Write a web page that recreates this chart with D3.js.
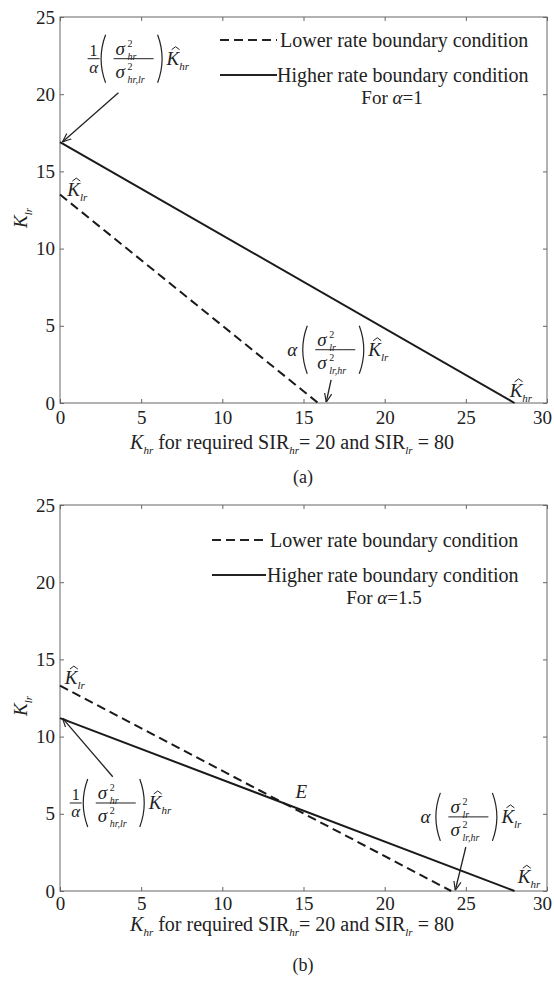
<!DOCTYPE html>
<meta charset="utf-8">
<script src="https://d3js.org/d3.v7.min.js"></script>
<style>
  body { margin: 0; background: #fff; }
  text { font-family: "Liberation Serif", "Times New Roman", serif; fill: #222; }
</style>
<div id="chart"></div>
<script>
// ticks shared by both panels
const xTicks = [0, 5, 10, 15, 20, 25, 30];
const yTicks = [0, 5, 10, 15, 20, 25];

// panel (a), alpha = 1 : points are [K_hr, K_lr]
const lowerA = [[0, 13.5], [15.9, 0]];
const higherA = [[0, 16.9], [28, 0]];
// panel (b), alpha = 1.5
const lowerB = [[0, 13.3], [24.1, 0]];
const higherB = [[0, 11.2], [28, 0]];

const legendLabels = ["Lower rate boundary condition", "Higher rate boundary condition"];

// annotations, anchored in data units
const notesA = {
  inv: { at: [1.7, 22.3], num: "hr", den: "hr,lr", k: "hr", arrow: [[3.6, 20.1], [0.15, 16.9]] },
  frac: { at: [14.0, 3.45], num: "lr", den: "lr,hr", k: "lr", arrow: [[16.7, 1.5], [16.4, 0.05]] },
  hats: [{ at: [0.45, 13.4], sub: "lr" }, { at: [27.7, 0.4], sub: "hr" }],
  E: null
};
const notesB = {
  inv: { at: [0.6, 5.7], num: "hr", den: "hr,lr", k: "hr", arrow: [[3.25, 7.4], [0.15, 11.2]] },
  frac: { at: [22.2, 4.8], num: "lr", den: "lr,hr", k: "lr", arrow: [[25.0, 2.85], [24.35, 0.05]] },
  hats: [{ at: [0.3, 13.4], sub: "lr" }, { at: [28.2, 0.5], sub: "hr" }],
  E: [14.5, 6.0]
};

const W = 554, H = 982;
const panels = [
  { tag: "(a)", alpha: "1", lower: lowerA, higher: higherA, top: 17, bottom: 403, notes: notesA,
    tickPad: 8, xlab: 46, leg: { x0: 220, x1: 277, tx: 280, y: 23, fx: 392 } },
  { tag: "(b)", alpha: "1.5", lower: lowerB, higher: higherB, top: 505, bottom: 891, notes: notesB,
    tickPad: 6, xlab: 40, leg: { x0: 212, x1: 266, tx: 270, y: 35, fx: 384 } }
];

const svg = d3.select("#chart").append("svg")
  .attr("width", W).attr("height", H);

svg.append("defs").append("marker")
  .attr("id", "arr")
  .attr("viewBox", "0 0 10 10")
  .attr("refX", 10).attr("refY", 5)
  .attr("markerUnits", "userSpaceOnUse")
  .attr("markerWidth", 9).attr("markerHeight", 9)
  .attr("orient", "auto")
  .append("path")
  .attr("d", "M0,1 L10,5 L0,9")
  .attr("fill", "none").attr("stroke", "#222").attr("stroke-width", 1.3);

var x = d3.scaleLinear().domain([0, 30]).range([60, 547]);

function sigma(g, px, py, sub) {
  g.append("text").attr("x", px).attr("y", py)
    .style("font-style", "italic").style("font-size", "19px").text("σ");
  g.append("text").attr("x", px + 12).attr("y", py - 8).style("font-size", "10px").text("2");
  g.append("text").attr("x", px + 12).attr("y", py + 5)
    .style("font-size", "10px").style("font-style", "italic").text(sub);
}

// K with a hat drawn as a small stroke above it
function hatK(g, px, py, sub) {
  var t = g.append("text").attr("x", px).attr("y", py).style("font-size", "19px");
  t.append("tspan").style("font-style", "italic").text("K");
  t.append("tspan").attr("dy", 5).style("font-size", "11px").style("font-style", "italic").text(sub);
  g.append("path")
    .attr("d", `M${px + 5},${py - 15} L${px + 9},${py - 18} L${px + 13},${py - 15}`)
    .attr("fill", "none").attr("stroke", "#222").attr("stroke-width", 1);
}

function paren(g, px, left) {
  var d = left ? `M${px + 5},-24 Q${px - 4},0 ${px + 5},24` : `M${px},-24 Q${px + 9},0 ${px},24`;
  g.append("path").attr("d", d).attr("fill", "none").attr("stroke", "#222").attr("stroke-width", 1.2);
}

// alpha-fraction expression; inverse = true gives the 1/alpha form
function fracNote(g, px, py, o, inverse) {
  var n = g.append("g").attr("transform", `translate(${px},${py})`);
  var p;
  if (inverse) {
    n.append("text").attr("x", 6).attr("y", -3).attr("text-anchor", "middle")
      .style("font-size", "16px").text("1");
    n.append("line").attr("x1", 0).attr("x2", 12).attr("y1", 0).attr("y2", 0)
      .attr("stroke", "#222").attr("stroke-width", 1);
    n.append("text").attr("x", 6).attr("y", 14).attr("text-anchor", "middle")
      .style("font-size", "17px").style("font-style", "italic").text("α");
    p = 11;
  } else {
    n.append("text").attr("x", 0).attr("y", 6)
      .style("font-size", "19px").style("font-style", "italic").text("α");
    p = 13;
  }
  var bw = 40;
  paren(n, p + 2, true);
  sigma(n, p + 17, -4, o.num);
  n.append("line").attr("x1", p + 15).attr("x2", p + 15 + bw).attr("y1", 0).attr("y2", 0)
    .attr("stroke", "#222").attr("stroke-width", 1);
  sigma(n, p + 17, 19, o.den);
  paren(n, p + 15 + bw + 4, false);
  hatK(n, p + 15 + bw + 13, 6, o.k);
}

panels.forEach(function(P) {
  var y = d3.scaleLinear().domain([0, 25]).range([P.bottom, P.top]);
  var g = svg.append("g");

  // box and inward ticks on all sides
  g.append("rect")
    .attr("x", x(0)).attr("y", y(25))
    .attr("width", x(30) - x(0)).attr("height", y(0) - y(25))
    .attr("fill", "none").attr("stroke", "#666").attr("stroke-width", 1);

  var axB = g.append("g").attr("transform", `translate(0,${y(0)})`)
    .call(d3.axisBottom(x).tickValues(xTicks).tickSizeInner(-4).tickSizeOuter(0).tickPadding(P.tickPad));
  var axT = g.append("g").attr("transform", `translate(0,${y(25)})`)
    .call(d3.axisTop(x).tickValues(xTicks).tickSizeInner(-4).tickSizeOuter(0).tickFormat(""));
  var axL = g.append("g").attr("transform", `translate(${x(0)},0)`)
    .call(d3.axisLeft(y).tickValues(yTicks).tickSizeInner(-4).tickSizeOuter(0).tickPadding(5));
  var axR = g.append("g").attr("transform", `translate(${x(30)},0)`)
    .call(d3.axisRight(y).tickValues(yTicks).tickSizeInner(-4).tickSizeOuter(0).tickFormat(""));
  [axB, axT, axL, axR].forEach(function(a) {
    a.select(".domain").remove();
    a.selectAll(".tick line").attr("stroke", "#666");
    a.selectAll("text").style("font-size", "19px").attr("fill", "#222")
      .style("font-family", "'Liberation Serif', serif");
  });
  // keep the last x label inside the page
  axB.selectAll(".tick text").filter(function(d) { return d === 30; }).attr("dx", -5);

  // the two boundary lines
  var line = d3.line().x(function(d) { return x(d[0]); }).y(function(d) { return y(d[1]); });
  g.append("path").datum(P.lower).attr("d", line)
    .attr("fill", "none").attr("stroke", "#1a1a1a").attr("stroke-width", 2)
    .attr("stroke-dasharray", "9,5");
  g.append("path").datum(P.higher).attr("d", line)
    .attr("fill", "none").attr("stroke", "#1a1a1a").attr("stroke-width", 2);

  // legend
  var L = P.leg, ly = P.top + L.y;
  g.append("line").attr("x1", L.x0).attr("x2", L.x1).attr("y1", ly).attr("y2", ly)
    .attr("stroke", "#222").attr("stroke-width", 2).attr("stroke-dasharray", "9,5");
  g.append("text").attr("x", L.tx).attr("y", ly + 7).style("font-size", "20px").text(legendLabels[0]);
  g.append("line").attr("x1", L.x0).attr("x2", L.x1).attr("y1", ly + 35).attr("y2", ly + 35)
    .attr("stroke", "#222").attr("stroke-width", 2);
  g.append("text").attr("x", L.tx - 3).attr("y", ly + 42).style("font-size", "20px").text(legendLabels[1]);
  var ft = g.append("text").attr("x", L.fx).attr("y", ly + 64)
    .attr("text-anchor", "middle").style("font-size", "19px");
  ft.append("tspan").text("For ");
  ft.append("tspan").style("font-style", "italic").text("α");
  ft.append("tspan").text("=" + P.alpha);

  // annotations
  var N = P.notes;
  [N.inv, N.frac].forEach(function(o, i) {
    g.append("line")
      .attr("x1", x(o.arrow[0][0])).attr("y1", y(o.arrow[0][1]))
      .attr("x2", x(o.arrow[1][0])).attr("y2", y(o.arrow[1][1]))
      .attr("stroke", "#222").attr("stroke-width", 1.3)
      .attr("marker-end", "url(#arr)");
    fracNote(g, x(o.at[0]), y(o.at[1]), o, i === 0);
  });
  N.hats.forEach(function(h) { hatK(g, x(h.at[0]), y(h.at[1]), h.sub); });
  if (N.E) {
    g.append("text").attr("x", x(N.E[0])).attr("y", y(N.E[1]))
      .style("font-size", "19px").style("font-style", "italic").text("E");
  }

  // axis titles
  var xl = g.append("text").attr("x", 292).attr("y", y(0) + P.xlab)
    .attr("text-anchor", "middle").style("font-size", "20px");
  xl.append("tspan").style("font-style", "italic").text("K");
  xl.append("tspan").attr("dy", 5).style("font-size", "11px").style("font-style", "italic").text("hr");
  xl.append("tspan").attr("dy", -5).text(" for required SIR");
  xl.append("tspan").attr("dy", 5).style("font-size", "11px").style("font-style", "italic").text("hr");
  xl.append("tspan").attr("dy", -5).text("= 20 and SIR");
  xl.append("tspan").attr("dy", 5).style("font-size", "11px").style("font-style", "italic").text("lr");
  xl.append("tspan").attr("dy", -5).text(" = 80");

  var yc = (P.top + P.bottom) / 2 + 8;
  var yl = g.append("text").attr("transform", `translate(27,${yc}) rotate(-90)`)
    .attr("text-anchor", "middle").style("font-size", "19px");
  yl.append("tspan").style("font-style", "italic").text("K");
  yl.append("tspan").attr("dy", 5).style("font-size", "11px").style("font-style", "italic").text("lr");

  g.append("text").attr("x", 303).attr("y", y(0) + 80)
    .attr("text-anchor", "middle").style("font-size", "18px").text(P.tag);
});
</script>
